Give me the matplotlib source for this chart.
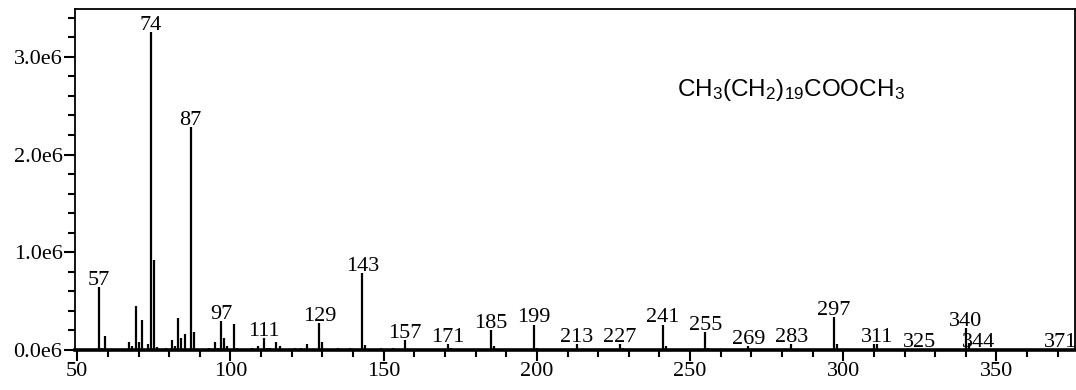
import matplotlib
matplotlib.use("Agg")
from matplotlib import pyplot as plt
from matplotlib.ticker import MultipleLocator, FuncFormatter

# m/z and intensity of the peaks
mz = [57, 58, 59, 67, 68, 69, 70, 71, 73, 74, 75, 76, 79, 81, 82, 83, 84, 85,
      87, 88, 93, 95, 96, 97, 98, 99, 101, 102, 107, 109, 111, 112, 113, 115,
      116, 121, 123, 125, 129, 130, 135, 139, 143, 144, 149, 153, 157, 171,
      172, 185, 186, 199, 200, 213, 227, 228, 241, 242, 255, 256, 269, 283,
      297, 298, 310, 311, 325, 340, 341, 344, 371]
intensity = [0.64e6, 0.02e6, 0.14e6, 0.08e6, 0.045e6, 0.45e6, 0.08e6, 0.305e6,
             0.062e6, 3.25e6, 0.924e6, 0.035e6, 0.02e6, 0.105e6, 0.045e6,
             0.325e6, 0.125e6, 0.165e6, 2.285e6, 0.185e6, 0.02e6, 0.08e6,
             0.02e6, 0.30e6, 0.125e6, 0.045e6, 0.265e6, 0.02e6, 0.02e6,
             0.045e6, 0.125e6, 0.02e6, 0.02e6, 0.08e6, 0.045e6, 0.02e6, 0.02e6,
             0.06e6, 0.28e6, 0.08e6, 0.02e6, 0.02e6, 0.788e6, 0.055e6, 0.02e6,
             0.02e6, 0.105e6, 0.062e6, 0.02e6, 0.20e6, 0.045e6, 0.26e6, 0.02e6,
             0.06e6, 0.06e6, 0.02e6, 0.26e6, 0.045e6, 0.18e6, 0.02e6, 0.04e6,
             0.06e6, 0.34e6, 0.06e6, 0.06e6, 0.06e6, 0.01e6, 0.22e6, 0.07e6,
             0.01e6, 0.01e6]

labelled = [57, 74, 87, 97, 111, 129, 143, 157, 171, 185, 199, 213, 227, 241,
            255, 269, 283, 297, 311, 325, 340, 344, 371]

formula = r'$\mathrm{CH_3(CH_2)_{19}COOCH_3}$'

plt.rcParams['font.family'] = 'Liberation Serif'
plt.rcParams['mathtext.fontset'] = 'custom'
plt.rcParams['mathtext.rm'] = 'Liberation Sans'

fig = plt.figure(figsize=(10.76, 3.9), dpi=100)
ax = fig.add_axes([0.0697, 0.1026, 0.929, 0.8744])

ax.vlines(mz, 0, intensity, color='black', linewidth=1.6)

peaks = dict(zip(mz, intensity))
for m in labelled:
    ax.annotate(str(m), (m, peaks[m]), xytext=(0, 1.5), textcoords='offset points',
                ha='center', va='baseline', fontsize=16)

ax.text(0.602, 0.762, formula, transform=ax.transAxes, fontsize=17.5,
        ha='left', va='center')

ax.set_xlim(49.25, 375.5)
ax.set_ylim(0, 3.49e6)

ax.xaxis.set_major_locator(MultipleLocator(50))
ax.xaxis.set_minor_locator(MultipleLocator(10))
ax.yaxis.set_major_locator(MultipleLocator(1e6))
ax.yaxis.set_minor_locator(MultipleLocator(0.2e6))
ax.yaxis.set_major_formatter(FuncFormatter(lambda v, p: f"{v / 1e6:.1f}e6"))

ax.tick_params(which='major', length=8, width=1.5, labelsize=16, pad=1)
ax.tick_params(which='minor', length=5, width=1.5)

for side in ['left', 'top', 'right']:
    ax.spines[side].set_linewidth(1.3)
ax.spines['bottom'].set_linewidth(2.6)

plt.savefig('out.png', dpi=100)
plt.close()
